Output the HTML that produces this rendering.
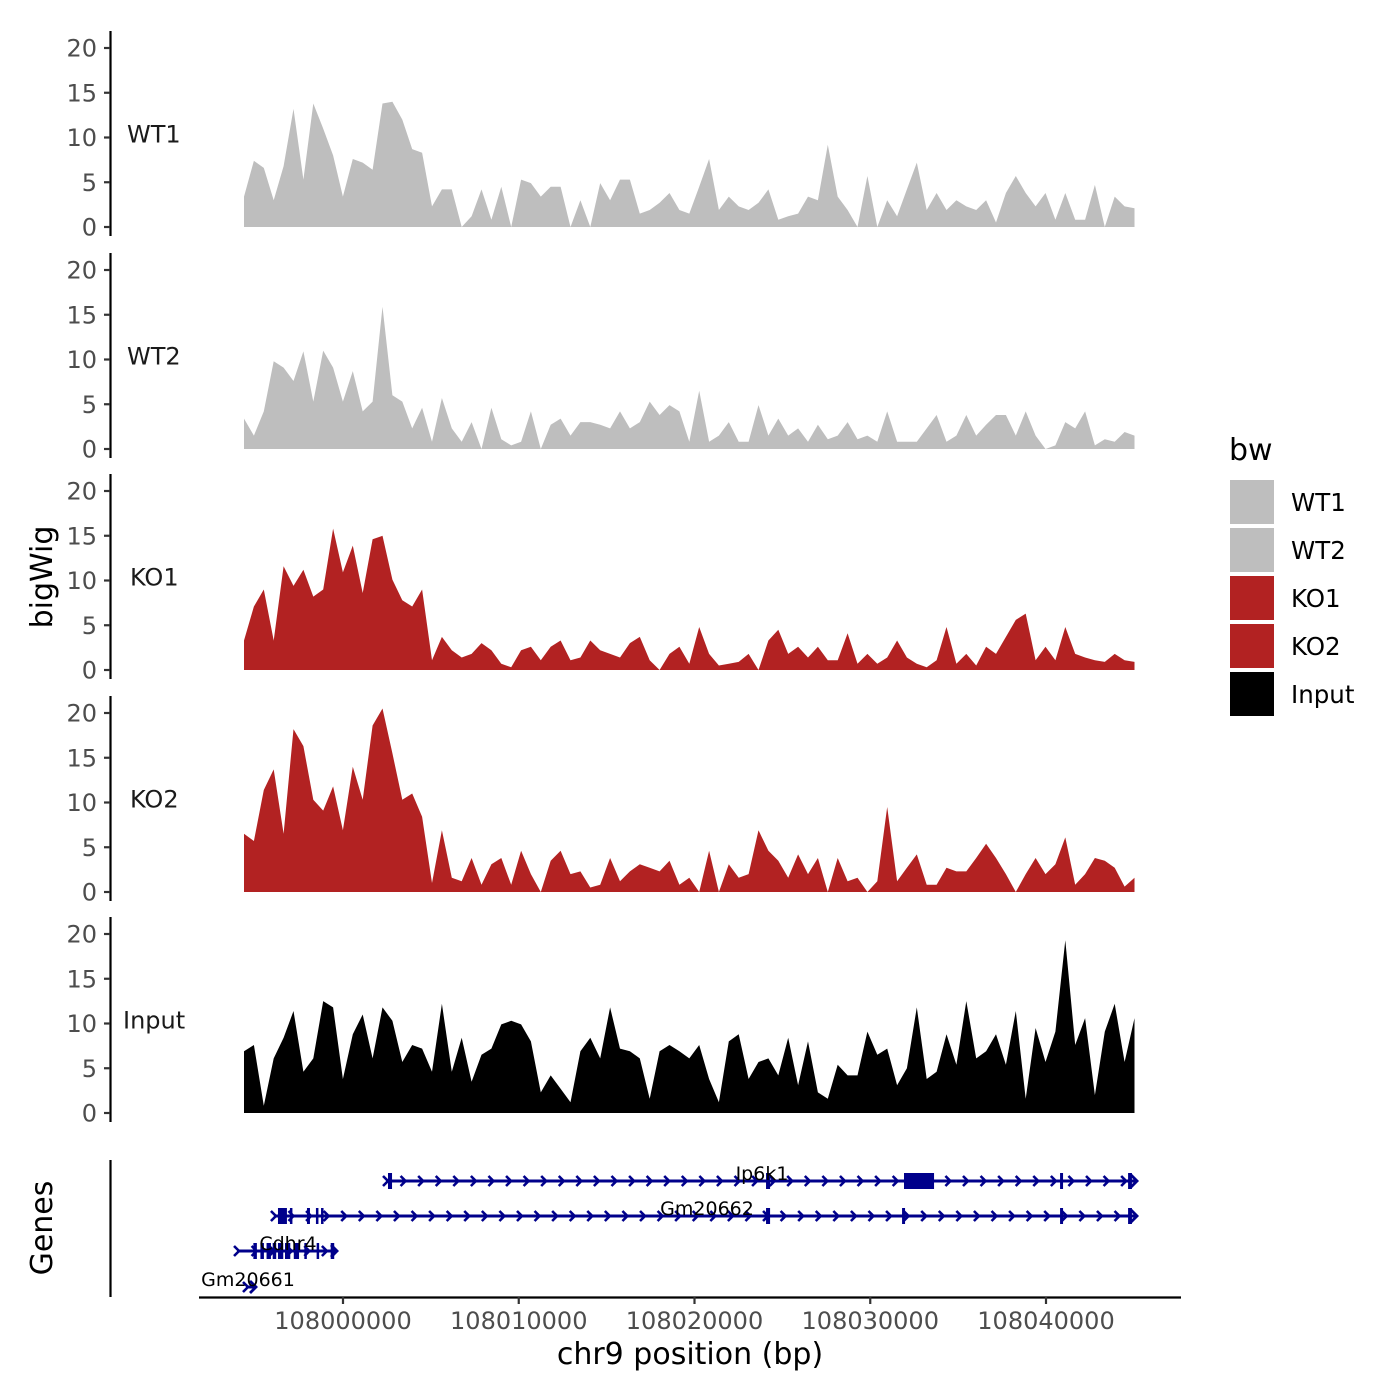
<!DOCTYPE html>
<html><head><meta charset="utf-8"><style>
html,body{margin:0;padding:0;background:#fff;}
svg{display:block;font-family:"DejaVu Sans","Liberation Sans",sans-serif;}
</style></head><body>
<svg id="chart" width="1400" height="1400" viewBox="0 0 1400 1400" xmlns="http://www.w3.org/2000/svg"></svg>
<script>
// ---------- data ----------
const trackNames = ["WT1","WT2","KO1","KO2","Input"];
const trackColors = ["#bebebe","#bebebe","#b22222","#b22222","#000000"];
const binStartBp = 107994367;
const binSizeBp = 563;
const wt1Values = [3.4,7.4,6.6,3,6.8,13.2,5.3,13.8,11,8,3.4,7.6,7.2,6.4,13.8,14,12,8.7,8.3,2.3,4.2,4.2,0,1.2,4.2,0.8,4.5,0,5.3,4.9,3.4,4.5,4.5,0,3,0,4.9,3,5.3,5.3,1.5,1.9,2.7,3.8,1.9,1.5,4.5,7.6,1.9,3.4,2.3,1.9,2.7,4.2,0.8,1.2,1.5,3.4,3,9.2,3.4,1.9,0,5.7,0,3,1.2,4.2,7.2,1.9,3.8,1.9,3,2.3,1.9,3,0.5,3.8,5.7,3.8,2.3,3.8,0.8,3.8,0.8,0.8,4.7,0,3.4,2.3,2.1];
const wt2Values = [3.4,1.5,4.2,9.8,9.1,7.6,10.9,5.3,11,9.1,5.3,8.7,4.2,5.3,15.9,6,5.3,2.3,4.6,0.8,5.7,2.3,0.8,3,0,4.6,1.1,0.4,0.8,4.2,0,2.7,3.4,1.5,3,3,2.7,2.3,4.2,2.3,3,5.3,3.8,4.9,4.2,0.8,6.5,0.8,1.5,3,0.8,0.8,4.9,1.5,3.4,1.5,2.3,0.8,2.7,1.1,1.5,3,1.1,1.5,0.8,4.2,0.8,0.8,0.8,2.3,3.8,0.8,1.5,3.8,1.5,2.7,3.8,3.8,1.5,4.2,1.5,0,0.4,3,2.3,4.2,0.4,1.1,0.8,1.9,1.5];
const ko1Values = [3.3,7.1,9,3.3,11.6,9.4,11.2,8.2,9,15.8,10.9,13.9,8.6,14.6,15,10.1,7.8,7.1,9,1.1,3.7,2.2,1.4,1.8,3,2.2,0.7,0.3,2.2,2.6,1.1,2.6,3.3,1.1,1.4,3.3,2.2,1.8,1.4,3,3.7,1.1,0,1.8,2.6,0.7,4.8,1.8,0.5,0.7,0.9,1.8,0,3.3,4.5,1.8,2.6,1.4,2.6,1.1,1.1,4.1,0.7,1.8,0.7,1.4,3.3,1.4,0.7,0.3,1.1,4.8,0.7,1.8,0.5,2.6,1.8,3.7,5.6,6.3,1.1,2.6,1.1,4.8,1.8,1.4,1.1,0.9,1.8,1.1,0.9];
const ko2Values = [6.5,5.7,11.4,13.7,6.5,18.2,16.3,10.3,9.1,11.8,6.9,14,10.3,18.6,20.5,15.5,10.3,11,8.4,1,6.9,1.6,1.2,3.8,0.8,3.1,3.8,0.8,4.6,2,0,3.5,4.6,2,2.3,0.5,0.8,3.8,1.2,2.3,3.1,2.7,2.3,3.5,0.8,1.6,0,4.6,0,3.1,1.6,2,6.9,4.6,3.5,1.6,4.2,2,3.8,0,3.8,1.2,1.6,0,1.2,9.5,1.2,2.7,4.2,0.8,0.8,2.7,2.3,2.3,3.8,5.4,3.8,2,0,2,3.8,2,3.1,6.1,0.8,2,3.8,3.5,2.7,0.6,1.6];
const inputValues = [6.9,7.6,0.8,6.1,8.4,11.4,4.6,6.1,12.5,11.8,3.8,8.8,11,6.1,11.8,10.3,5.7,7.6,7.2,4.6,12.2,4.6,8.4,3.5,6.5,7.2,9.9,10.3,9.9,8,2.3,4.2,2.7,1.2,6.9,8.4,6.1,11.8,7.2,6.9,6.1,1.6,6.9,7.6,6.9,6.1,7.6,3.8,1.2,8,8.8,3.8,5.7,6.1,4.2,8.4,3.1,8,2.3,1.6,5.4,4.2,4.2,9.1,6.5,7.2,3.1,5,11.8,3.8,4.6,8.8,5.4,12.5,6.1,6.9,8.8,5.4,11.4,1.6,9.5,5.7,9.1,19.3,7.6,10.6,2,9.1,12.2,5.7,10.6];
const yTicks = [0,5,10,15,20];
const xTicks = [108000000,108010000,108020000,108030000,108040000];
const geneNames = ["Ip6k1","Gm20662","Cdhr4","Gm20661"];
const geneStarts = [108002447,107996070,107993970,107994480];
const geneEnds = [108045180,108045180,107999660,107995050];
const geneExons = [
  [[108002560,108002790],[108024070,108024300],[108031920,108033630],[108040800,108040970],[108044670,108044890]],
  [[107996300,107996810],[107996980,107997100],[107997950,107998120],[107998460,107998580],[107998750,107998860],[108024070,108024300],[108031810,108031980],[108040800,108040970],[108044670,108044890]],
  [[107994900,107995100],[107995300,107995500],[107995650,107995900],[107996000,107996200],[107996300,107996600],[107996700,107997000],[107997200,107997500],[107997800,107997900],[107998500,107998600],[107999300,107999500]],
  []
];
// ---------- scales ----------
const NS="http://www.w3.org/2000/svg";
const svg=document.getElementById('chart');
const xScale=bp=>343+(bp-108000000)*703/40000;
const panelZero=[227,449,670,892,1113];
const yScale=(p,v)=>panelZero[p]-v*179/20;
function el(tag,attrs,parent,text){const e=document.createElementNS(NS,tag);for(const k in attrs)e.setAttribute(k,attrs[k]);if(text!==undefined)e.textContent=text;(parent||svg).appendChild(e);return e;}
const allValues=[wt1Values,wt2Values,ko1Values,ko2Values,inputValues];
// ---------- tracks ----------
allValues.forEach((vals,p)=>{
  const g=el('g',{});
  
  
  let d='M'+xScale(binStartBp)+','+panelZero[p];
  vals.forEach((v,i)=>{d+=' L'+xScale(binStartBp+i*binSizeBp).toFixed(1)+','+yScale(p,v).toFixed(1);});
  d+=' L'+xScale(binStartBp+(vals.length-1)*binSizeBp).toFixed(1)+','+panelZero[p]+' Z';
  const a=el('path',{d:d,fill:trackColors[p],stroke:'none'},g);
  
  
  const ax=el('line',{x1:110.5,x2:110.5,y1:panelZero[p]-196,y2:panelZero[p]+9,stroke:'#000','stroke-width':2.2},g);
  
  
  yTicks.forEach(t=>{
    const y=yScale(p,t);
    el('line',{x1:104,x2:110,y1:y,y2:y,stroke:'#333','stroke-width':2.2},g);
    const tl=el('text',{x:97,y:y+8.5,'text-anchor':'end','font-size':24,fill:'#4d4d4d'},g,String(t));
    
    
  });
  const lab=el('text',{x:trackNames[p]==='Input'?123:(p>=2?130:127),y:yScale(p,10)+5,'font-size':24,fill:'#1a1a1a'},g,trackNames[p]);
  
  
});
const yt=el('text',{x:0,y:0,transform:'translate(52,577) rotate(-90)','text-anchor':'middle','font-size':30,fill:'#000'},svg,'bigWig');


// ---------- genes ----------
const gg=el('g',{});


const gl=el('line',{x1:110.5,x2:110.5,y1:1160,y2:1297,stroke:'#000','stroke-width':2.2},gg);


const gt=el('text',{x:0,y:0,transform:'translate(52,1228) rotate(-90)','text-anchor':'middle','font-size':30,fill:'#000'},gg,'Genes');


const geneY=[1181,1216,1251,1287];
const navy='#00008b';
geneNames.forEach((name,k)=>{
  const g=el('g',{},gg);
  
  
  const y=geneY[k],x0=xScale(geneStarts[k]),x1=xScale(geneEnds[k]);
  el('line',{x1:x0,x2:x1,y1:y,y2:y,stroke:navy,'stroke-width':3},g);
  for(let bp=geneStarts[k];bp<geneEnds[k]-300;bp+=1000){
    const cx=xScale(bp);
    el('polyline',{points:(cx-3)+','+(y-5)+' '+(cx+2)+','+y+' '+(cx-3)+','+(y+5),fill:'none',stroke:navy,'stroke-width':2.6},g);
  }
  el('polyline',{points:(x1-6)+','+(y-6)+' '+x1+','+y+' '+(x1-6)+','+(y+6),fill:'none',stroke:navy,'stroke-width':2.8},g);
  geneExons[k].forEach(ex=>{
    const a=xScale(ex[0]),b=xScale(ex[1]);
    const r=el('rect',{x:a,y:y-8,width:Math.max(2.5,b-a),height:16,fill:navy},g);
    
    
  });
  const lx=k===0?762:k===1?707:k===2?288:248;
  const t=el('text',{x:lx,y:y-1,'text-anchor':'middle','font-size':19,fill:'#000'},g,name);
  
  
});
// ---------- x axis ----------
const xa=el('line',{x1:199,x2:1181,y1:1297.5,y2:1297.5,stroke:'#000','stroke-width':2.2});


xTicks.forEach(t=>{
  const x=xScale(t);
  el('line',{x1:x,x2:x,y1:1297,y2:1304,stroke:'#333','stroke-width':2.2});
  const tl=el('text',{x:x,y:1329,'text-anchor':'middle','font-size':24,fill:'#4d4d4d'},svg,String(t));
  
  
});
const xt=el('text',{x:690,y:1364,'text-anchor':'middle','font-size':30,fill:'#000'},svg,'chr9 position (bp)');


// ---------- legend ----------
const lg=el('g',{});


const lt=el('text',{x:1229,y:460,'font-size':30,fill:'#000'},lg,'bw');


trackNames.forEach((n,i)=>{
  const y=480+i*48;
  const e=el('g',{},lg);
  
  
  el('rect',{x:1230,y:y,width:44,height:44,fill:trackColors[i]},e);
  el('text',{x:1291,y:y+31,'font-size':24.5,fill:'#000'},e,n);
});
</script>
</body></html>
